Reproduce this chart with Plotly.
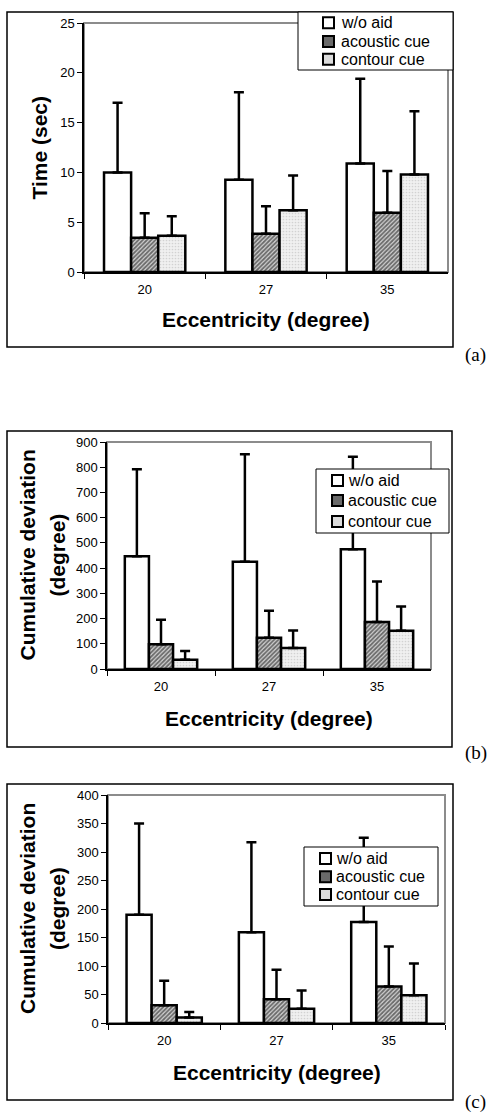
import plotly.graph_objects as go

W, H = 492, 1114

categories = ["20", "27", "35"]
series_names = ["w/o aid", "acoustic cue", "contour cue"]

# Panel (a): Time (sec)
a_woaid = [10.0, 9.25, 10.9]
a_woaid_err = [7.0, 8.8, 8.5]
a_acoustic = [3.45, 3.85, 5.95]
a_acoustic_err = [2.45, 2.75, 4.2]
a_contour = [3.65, 6.2, 9.8]
a_contour_err = [1.95, 3.5, 6.35]

# Panel (b): Cumulative deviation (degree)
b_woaid = [447, 425, 475]
b_woaid_err = [345, 426, 367]
b_acoustic = [98, 124, 186]
b_acoustic_err = [97, 107, 161]
b_contour = [37, 83, 152]
b_contour_err = [34, 70, 96]

# Panel (c): Cumulative deviation (degree)
c_woaid = [190, 159, 177]
c_woaid_err = [160, 158, 148]
c_acoustic = [31, 41.5, 64]
c_acoustic_err = [43, 52, 70]
c_contour = [9.5, 25, 48.5]
c_contour_err = [10, 32, 56]

y_ranges = [[0, 25], [0, 900], [0, 400]]
y_dticks = [5, 100, 50]
x_title = "Eccentricity (degree)"
panel_labels = ["(a)", "(b)", "(c)"]

FONT = "Liberation Sans, Arial, sans-serif"
SERIF = "Liberation Serif, Times New Roman, serif"


def px(x):
    return x / W


def py(y):
    return 1 - y / H


styles = [
    dict(color="white", line=dict(color="black", width=2.5)),
    dict(color="#cfcfcf", line=dict(color="black", width=2.5),
         pattern=dict(shape="/", fgcolor="black", bgcolor="#d4d4d4", size=3, solidity=0.6)),
    dict(color="#f0f0f0", line=dict(color="black", width=2.5),
         pattern=dict(shape=".", fgcolor="#b4b4b4", bgcolor="#f0f0f0", size=3, solidity=0.25)),
]
legend_fills = ["white", "#6a6a6a", "#dcdcdc"]

panels = [
    dict(vals=[a_woaid, a_acoustic, a_contour], errs=[a_woaid_err, a_acoustic_err, a_contour_err],
         box=(7, 12, 453, 347), plot=(84, 23, 448, 272), legend=(298, 12, 453, 70),
         leg_rows=[22.7, 41.5, 59.3], leg_sym_x=323, leg_text_x=339,
         ytitle=["Time (sec)"], ytitle_x=[39], xt_y=320, lab_y=355),
    dict(vals=[b_woaid, b_acoustic, b_contour], errs=[b_woaid_err, b_acoustic_err, b_contour_err],
         box=(7, 431, 452, 747), plot=(107, 442, 431, 669), legend=(316, 469, 449, 533),
         leg_rows=[480.5, 500.5, 521.5], leg_sym_x=332, leg_text_x=346,
         ytitle=["Cumulative deviation", "(degree)"], ytitle_x=[27, 57], xt_y=718, lab_y=753),
    dict(vals=[c_woaid, c_acoustic, c_contour], errs=[c_woaid_err, c_acoustic_err, c_contour_err],
         box=(7, 784, 453, 1100), plot=(108, 795, 445, 1023), legend=(304, 847, 438, 906),
         leg_rows=[858.5, 876.7, 894.5], leg_sym_x=320, leg_text_x=334,
         ytitle=["Cumulative deviation", "(degree)"], ytitle_x=[27, 57], xt_y=1072, lab_y=1102),
]

fig = go.Figure()
shapes = []
annotations = []
layout_axes = {}

for i, p in enumerate(panels):
    sfx = "" if i == 0 else str(i + 1)
    xref, yref = "x" + sfx, "y" + sfx
    for j in range(3):
        fig.add_trace(go.Bar(
            x=categories, y=p["vals"][j], name=series_names[j],
            marker=styles[j], showlegend=False,
            xaxis=xref, yaxis=yref,
            error_y=dict(type="data", array=p["errs"][j], arrayminus=[0, 0, 0],
                         symmetric=False, color="black", thickness=2.5, width=5),
        ))
    x0, y0, x1, y1 = p["plot"]
    layout_axes["xaxis" + sfx] = dict(
        domain=[px(x0), px(x1)], anchor=yref, type="category",
        showline=True, linecolor="black", linewidth=1.5,
        ticks="outside", tickson="boundaries", ticklen=5, tickcolor="black", tickwidth=1,
        showgrid=False, zeroline=False, automargin=False, ticklabelstandoff=5,
        tickfont=dict(family=FONT, size=13, color="black"),
    )
    layout_axes["yaxis" + sfx] = dict(
        domain=[py(y1), py(y0)], anchor=xref, range=y_ranges[i], dtick=y_dticks[i],
        showline=True, linecolor="black", linewidth=1.5,
        ticks="outside", ticklen=5, tickcolor="black", tickwidth=1,
        showgrid=False, zeroline=False, automargin=False,
        tickfont=dict(family=FONT, size=13, color="black"),
    )
    # gray plot-area border
    shapes.append(dict(type="rect", xref=xref + " domain", yref=yref + " domain",
                       x0=0, y0=0, x1=1, y1=1, line=dict(color="#8c8c8c", width=2),
                       layer="below"))
    # outer box
    bx0, by0, bx1, by1 = p["box"]
    shapes.append(dict(type="rect", xref="paper", yref="paper",
                       x0=px(bx0), y0=py(by1), x1=px(bx1), y1=py(by0),
                       line=dict(color="black", width=1.5), layer="above"))
    # legend box
    lx0, ly0, lx1, ly1 = p["legend"]
    shapes.append(dict(type="rect", xref="paper", yref="paper",
                       x0=px(lx0), y0=py(ly1), x1=px(lx1), y1=py(ly0),
                       fillcolor="white", line=dict(color="black", width=1), layer="above"))
    for j, ry in enumerate(p["leg_rows"]):
        sx = p["leg_sym_x"]
        shapes.append(dict(type="rect", xref="paper", yref="paper",
                           x0=px(sx), y0=py(ry + 5.5), x1=px(sx + 11), y1=py(ry - 5.5),
                           fillcolor=legend_fills[j], line=dict(color="black", width=2),
                           layer="above"))
        annotations.append(dict(text=series_names[j], xref="paper", yref="paper",
                                x=px(p["leg_text_x"]), y=py(ry), xanchor="left", yanchor="middle",
                                showarrow=False, font=dict(family=FONT, size=16, color="black")))
    # axis titles
    for t, tx in zip(p["ytitle"], p["ytitle_x"]):
        annotations.append(dict(text="<b>" + t + "</b>", xref="paper", yref="paper",
                                x=px(tx), y=py((y0 + y1) / 2), textangle=-90,
                                xanchor="center", yanchor="middle", showarrow=False,
                                font=dict(family=FONT, size=21, color="black")))
    annotations.append(dict(text="<b>" + x_title + "</b>", xref="paper", yref="paper",
                            x=px((x0 + x1) / 2), y=py(p["xt_y"]), xanchor="center", yanchor="middle",
                            showarrow=False, font=dict(family=FONT, size=21, color="black")))
    annotations.append(dict(text=panel_labels[i], xref="paper", yref="paper",
                            x=px(463), y=py(p["lab_y"]), xanchor="left", yanchor="middle",
                            showarrow=False, font=dict(family=SERIF, size=19, color="black")))

fig.update_layout(
    width=W, height=H,
    margin=dict(l=0, r=0, t=0, b=0),
    paper_bgcolor="white", plot_bgcolor="white",
    barmode="group", bargap=0.33, bargroupgap=0,
    showlegend=False,
    shapes=shapes, annotations=annotations,
    font=dict(family=FONT, color="black"),
    **layout_axes,
)

fig.write_html("out.html", config={"displayModeBar": False},
               post_script="document.body.style.margin='0px';document.body.style.padding='0px';")
